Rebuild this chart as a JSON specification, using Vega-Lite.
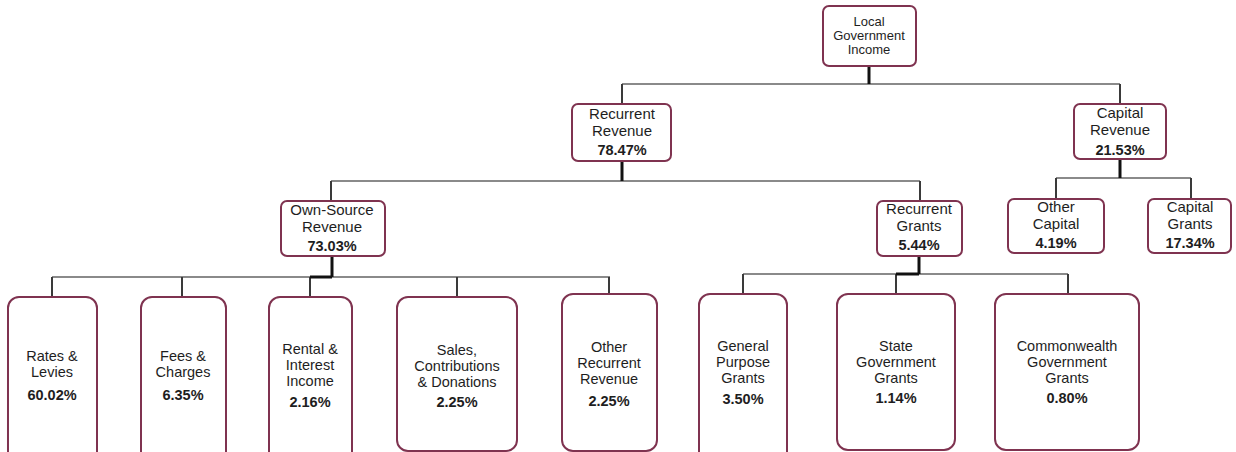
{
  "$schema": "https://vega.github.io/schema/vega-lite/v6.json",
  "width": 1236,
  "height": 452,
  "autosize": {"type": "fit", "contains": "padding"},
  "padding": 0,
  "background": "white",
  "config": {"view": {"stroke": null}},
  "datasets": {
    "nodes": [
      {"name": "Local Government Income", "label": "Local\nGovernment\nIncome", "pct": "", "kind": "root", "left": 823, "right": 916, "top": 6, "bottom": 66, "cx": 869, "ly": 22, "py": 0},
      {"name": "Recurrent Revenue", "label": "Recurrent\nRevenue", "pct": "78.47%", "kind": "mid", "left": 572, "right": 671, "top": 104, "bottom": 161, "cx": 622, "ly": 114, "py": 151},
      {"name": "Capital Revenue", "label": "Capital\nRevenue", "pct": "21.53%", "kind": "mid", "left": 1074, "right": 1166, "top": 104, "bottom": 159, "cx": 1120, "ly": 113, "py": 151},
      {"name": "Own-Source Revenue", "label": "Own-Source\nRevenue", "pct": "73.03%", "kind": "mid", "left": 281, "right": 385, "top": 201, "bottom": 256, "cx": 332, "ly": 210, "py": 247},
      {"name": "Recurrent Grants", "label": "Recurrent\nGrants", "pct": "5.44%", "kind": "mid", "left": 877, "right": 962, "top": 201, "bottom": 256, "cx": 919, "ly": 209, "py": 246},
      {"name": "Other Capital", "label": "Other\nCapital", "pct": "4.19%", "kind": "mid", "left": 1008, "right": 1104, "top": 199, "bottom": 253, "cx": 1056, "ly": 207, "py": 244},
      {"name": "Capital Grants", "label": "Capital\nGrants", "pct": "17.34%", "kind": "mid", "left": 1148, "right": 1231, "top": 199, "bottom": 253, "cx": 1190, "ly": 207, "py": 244},
      {"name": "Rates & Levies", "label": "Rates &\nLevies", "pct": "60.02%", "kind": "leaf", "left": 8, "right": 97, "top": 297, "bottom": 462, "cx": 52, "ly": 357, "py": 396},
      {"name": "Fees & Charges", "label": "Fees &\nCharges", "pct": "6.35%", "kind": "leaf", "left": 141, "right": 226, "top": 297, "bottom": 462, "cx": 183, "ly": 357, "py": 396},
      {"name": "Rental & Interest Income", "label": "Rental &\nInterest\nIncome", "pct": "2.16%", "kind": "leaf", "left": 269, "right": 352, "top": 297, "bottom": 462, "cx": 310, "ly": 350, "py": 403},
      {"name": "Sales, Contributions & Donations", "label": "Sales,\nContributions\n& Donations", "pct": "2.25%", "kind": "leaf", "left": 397, "right": 517, "top": 297, "bottom": 451, "cx": 457, "ly": 351, "py": 403},
      {"name": "Other Recurrent Revenue", "label": "Other\nRecurrent\nRevenue", "pct": "2.25%", "kind": "leaf", "left": 562, "right": 657, "top": 294, "bottom": 451, "cx": 609, "ly": 348, "py": 402},
      {"name": "General Purpose Grants", "label": "General\nPurpose\nGrants", "pct": "3.50%", "kind": "leaf", "left": 699, "right": 787, "top": 294, "bottom": 462, "cx": 743, "ly": 347, "py": 400},
      {"name": "State Government Grants", "label": "State\nGovernment\nGrants", "pct": "1.14%", "kind": "leaf", "left": 837, "right": 955, "top": 294, "bottom": 450, "cx": 896, "ly": 347, "py": 399},
      {"name": "Commonwealth Government Grants", "label": "Commonwealth\nGovernment\nGrants", "pct": "0.80%", "kind": "leaf", "left": 995, "right": 1139, "top": 294, "bottom": 450, "cx": 1067, "ly": 347, "py": 399}
    ],
    "links": [
      {"kind": "bar", "x1": 622, "x2": 1120, "y1": 84, "y2": 84},
      {"kind": "bar", "x1": 331, "x2": 920, "y1": 181, "y2": 181},
      {"kind": "bar", "x1": 1056, "x2": 1191, "y1": 178, "y2": 178},
      {"kind": "bar", "x1": 52, "x2": 610, "y1": 277, "y2": 277},
      {"kind": "bar", "x1": 743, "x2": 1068, "y1": 274, "y2": 274},
      {"kind": "child", "x1": 622, "x2": 622, "y1": 84, "y2": 104},
      {"kind": "child", "x1": 1120, "x2": 1120, "y1": 84, "y2": 104},
      {"kind": "child", "x1": 331, "x2": 331, "y1": 181, "y2": 201},
      {"kind": "child", "x1": 920, "x2": 920, "y1": 181, "y2": 201},
      {"kind": "child", "x1": 1056, "x2": 1056, "y1": 178, "y2": 199},
      {"kind": "child", "x1": 1191, "x2": 1191, "y1": 178, "y2": 199},
      {"kind": "child", "x1": 52, "x2": 52, "y1": 277, "y2": 297},
      {"kind": "child", "x1": 182, "x2": 182, "y1": 277, "y2": 297},
      {"kind": "child", "x1": 310, "x2": 310, "y1": 277, "y2": 297},
      {"kind": "child", "x1": 457, "x2": 457, "y1": 277, "y2": 297},
      {"kind": "child", "x1": 609, "x2": 609, "y1": 277, "y2": 294},
      {"kind": "child", "x1": 743, "x2": 743, "y1": 274, "y2": 294},
      {"kind": "child", "x1": 896, "x2": 896, "y1": 274, "y2": 294},
      {"kind": "child", "x1": 1068, "x2": 1068, "y1": 274, "y2": 294},
      {"kind": "parent", "x1": 869, "x2": 869, "y1": 66, "y2": 84},
      {"kind": "parent", "x1": 622, "x2": 622, "y1": 161, "y2": 181},
      {"kind": "parent", "x1": 1120, "x2": 1120, "y1": 159, "y2": 178},
      {"kind": "parent", "x1": 332, "x2": 332, "y1": 256, "y2": 277},
      {"kind": "parent", "x1": 310, "x2": 332, "y1": 277, "y2": 277},
      {"kind": "parent", "x1": 919, "x2": 919, "y1": 256, "y2": 274},
      {"kind": "parent", "x1": 896, "x2": 919, "y1": 274, "y2": 274}
    ]
  },
  "layer": [
    {
      "data": {"name": "links"},
      "transform": [{"filter": "datum.kind === 'bar'"}],
      "mark": {"type": "rule", "stroke": "#8a8a8a", "strokeWidth": 2},
      "encoding": {
        "x": {"field": "x1", "type": "quantitative", "scale": {"domain": [0, 1236], "nice": false, "zero": false}, "axis": null},
        "x2": {"field": "x2"},
        "y": {"field": "y1", "type": "quantitative", "scale": {"domain": [0, 452], "nice": false, "zero": false, "reverse": true}, "axis": null},
        "y2": {"field": "y2"}
      }
    },
    {
      "data": {"name": "links"},
      "transform": [{"filter": "datum.kind === 'child'"}],
      "mark": {"type": "rule", "stroke": "#3a3a3a", "strokeWidth": 2},
      "encoding": {
        "x": {"field": "x1", "type": "quantitative", "scale": {"domain": [0, 1236], "nice": false, "zero": false}, "axis": null},
        "x2": {"field": "x2"},
        "y": {"field": "y1", "type": "quantitative", "scale": {"domain": [0, 452], "nice": false, "zero": false, "reverse": true}, "axis": null},
        "y2": {"field": "y2"}
      }
    },
    {
      "data": {"name": "links"},
      "transform": [{"filter": "datum.kind === 'parent'"}],
      "mark": {"type": "rule", "stroke": "#111111", "strokeWidth": 3},
      "encoding": {
        "x": {"field": "x1", "type": "quantitative", "scale": {"domain": [0, 1236], "nice": false, "zero": false}, "axis": null},
        "x2": {"field": "x2"},
        "y": {"field": "y1", "type": "quantitative", "scale": {"domain": [0, 452], "nice": false, "zero": false, "reverse": true}, "axis": null},
        "y2": {"field": "y2"}
      }
    },
    {
      "data": {"name": "nodes"},
      "transform": [{"filter": "datum.kind !== 'leaf'"}],
      "mark": {"type": "rect", "fill": "white", "stroke": "#7f3350", "strokeWidth": 2, "cornerRadius": 6},
      "encoding": {
        "x": {"field": "left", "type": "quantitative", "scale": {"domain": [0, 1236], "nice": false, "zero": false}, "axis": null},
        "x2": {"field": "right"},
        "y": {"field": "top", "type": "quantitative", "scale": {"domain": [0, 452], "nice": false, "zero": false, "reverse": true}, "axis": null},
        "y2": {"field": "bottom"}
      }
    },
    {
      "data": {"name": "nodes"},
      "transform": [{"filter": "datum.kind === 'leaf'"}],
      "mark": {"type": "rect", "fill": "white", "stroke": "#7f3350", "strokeWidth": 2, "cornerRadius": 11, "clip": true},
      "encoding": {
        "x": {"field": "left", "type": "quantitative", "scale": {"domain": [0, 1236], "nice": false, "zero": false}, "axis": null},
        "x2": {"field": "right"},
        "y": {"field": "top", "type": "quantitative", "scale": {"domain": [0, 452], "nice": false, "zero": false, "reverse": true}, "axis": null},
        "y2": {"field": "bottom"}
      }
    },
    {
      "data": {"name": "nodes"},
      "transform": [{"filter": "datum.kind === 'root'"}],
      "mark": {"type": "text", "font": "Liberation Sans", "fontSize": 13, "lineHeight": 14, "lineBreak": "\n", "align": "center", "baseline": "middle", "color": "#1e1e1e"},
      "encoding": {
        "x": {"field": "cx", "type": "quantitative", "scale": {"domain": [0, 1236], "nice": false, "zero": false}, "axis": null},
        "y": {"field": "ly", "type": "quantitative", "scale": {"domain": [0, 452], "nice": false, "zero": false, "reverse": true}, "axis": null},
        "text": {"field": "label"}
      }
    },
    {
      "data": {"name": "nodes"},
      "transform": [{"filter": "datum.kind === 'mid'"}],
      "mark": {"type": "text", "font": "Liberation Sans", "fontSize": 15, "lineHeight": 16.5, "lineBreak": "\n", "align": "center", "baseline": "middle", "color": "#1e1e1e"},
      "encoding": {
        "x": {"field": "cx", "type": "quantitative", "scale": {"domain": [0, 1236], "nice": false, "zero": false}, "axis": null},
        "y": {"field": "ly", "type": "quantitative", "scale": {"domain": [0, 452], "nice": false, "zero": false, "reverse": true}, "axis": null},
        "text": {"field": "label"}
      }
    },
    {
      "data": {"name": "nodes"},
      "transform": [{"filter": "datum.kind === 'leaf'"}],
      "mark": {"type": "text", "font": "Liberation Sans", "fontSize": 14.5, "lineHeight": 16, "lineBreak": "\n", "align": "center", "baseline": "middle", "color": "#1e1e1e"},
      "encoding": {
        "x": {"field": "cx", "type": "quantitative", "scale": {"domain": [0, 1236], "nice": false, "zero": false}, "axis": null},
        "y": {"field": "ly", "type": "quantitative", "scale": {"domain": [0, 452], "nice": false, "zero": false, "reverse": true}, "axis": null},
        "text": {"field": "label"}
      }
    },
    {
      "data": {"name": "nodes"},
      "transform": [{"filter": "datum.kind !== 'root'"}],
      "mark": {"type": "text", "font": "Liberation Sans", "fontSize": 14.5, "fontWeight": "bold", "align": "center", "baseline": "middle", "color": "#1e1e1e"},
      "encoding": {
        "x": {"field": "cx", "type": "quantitative", "scale": {"domain": [0, 1236], "nice": false, "zero": false}, "axis": null},
        "y": {"field": "py", "type": "quantitative", "scale": {"domain": [0, 452], "nice": false, "zero": false, "reverse": true}, "axis": null},
        "text": {"field": "pct"}
      }
    }
  ]
}
